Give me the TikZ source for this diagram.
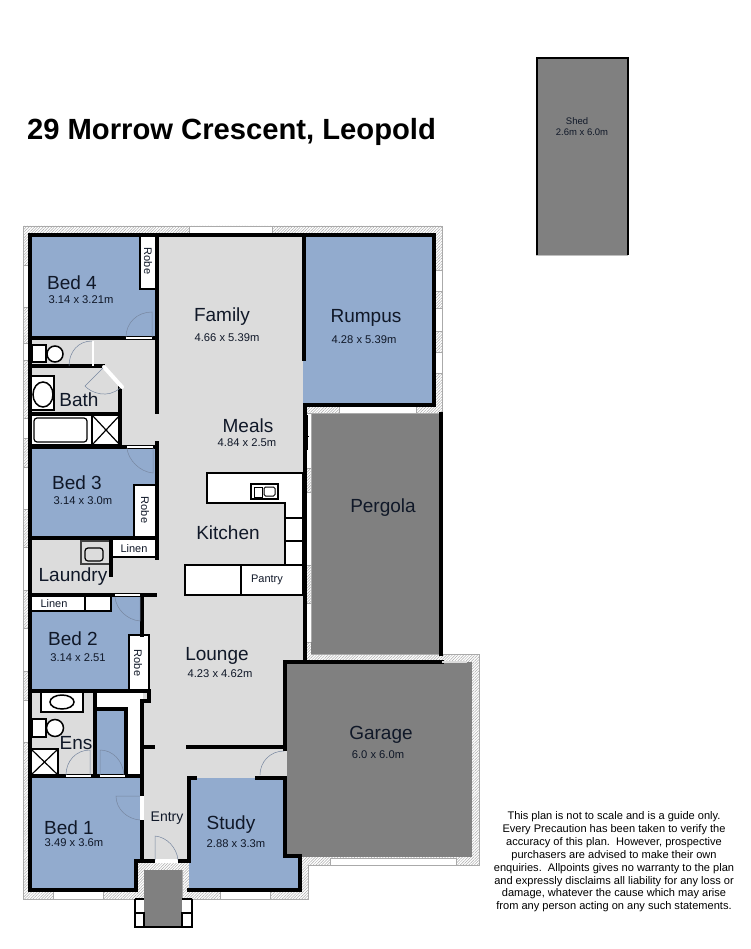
\documentclass[tikz,border=0pt]{standalone}
\usepackage{fontspec}
\setmainfont{Liberation Sans}
\usetikzlibrary{patterns.meta}
\definecolor{floorgrey}{RGB}{220,220,220}
\definecolor{bedblue}{RGB}{146,171,206}
\definecolor{slabgrey}{RGB}{128,128,128}
\definecolor{doorline}{RGB}{120,135,160}
\definecolor{bandline}{RGB}{170,170,170}
\definecolor{labelink}{RGB}{16,24,40}
\tikzstyle{wall}=[line width=3.4pt, line cap=rect, black]
\tikzstyle{fitting}=[line width=2pt, black, fill=white]
\tikzstyle{door}=[line width=0.5pt, doorline]
\tikzstyle{opening}=[line width=2.5pt, white]
\tikzstyle{hatched}=[draw=bandline, line width=0.7pt, pattern={Lines[angle=45,distance=2pt,line width=0.5pt]}, pattern color=bandline]
\tikzstyle{glazing}=[draw=bandline, line width=0.7pt, fill=white]
\tikzstyle{roomname}=[inner sep=0pt, labelink, font=\fontsize{19}{19}\selectfont]
\tikzstyle{roomsize}=[inner sep=0pt, labelink, font=\fontsize{11.2}{11.2}\selectfont]
\tikzstyle{cupboard}=[inner sep=0pt, labelink, font=\fontsize{11}{11}\selectfont]

\begin{document}
\begin{tikzpicture}[x=1pt, y=-1pt]
\useasboundingbox (0,0) rectangle (750,949);
% Outer band
    \draw[hatched] (23,226) -- (442,226) -- (442,413) -- (306,413) -- (306,642) -- (311,642) -- (311,654) -- (479,654) -- (479,865) -- (308,865) -- (308,899) -- (182,899) -- (182,870) -- (144,870) -- (144,899) -- (23,899) -- cycle;
    \draw[hatched] (306,468) rectangle (311,492);
    \draw[hatched] (306,565) rectangle (311,603);
% Windows
    \draw[glazing] (189,226) rectangle (272,234);
    \draw[glazing] (23,265) rectangle (30,307);
    \draw[glazing] (23,343) rectangle (30,360);
    \draw[glazing] (23,418) rectangle (30,438);
    \draw[glazing] (23,467) rectangle (30,509);
    \draw[glazing] (23,547) rectangle (30,590);
    \draw[glazing] (23,628) rectangle (30,671);
    \draw[glazing] (23,700) rectangle (30,742);
    \draw[glazing] (53,891) rectangle (103,899);
    \draw[glazing] (220,891) rectangle (270,899);
    \draw[glazing] (434,270) rectangle (442,291);
    \draw[glazing] (434,308) rectangle (442,331);
    \draw[glazing] (434,352) rectangle (442,373);
    \draw[glazing] (339,406) rectangle (416,413);
    \draw[glazing] (330,858) rectangle (456,865);
% Floors
    \fill[floorgrey] (157,235) rectangle (304,778);
    \fill[floorgrey] (30,338) rectangle (157,447);
    \fill[floorgrey] (30,538) rectangle (157,595);
    \fill[floorgrey] (143,595) rectangle (157,861);
    \fill[floorgrey] (157,778) rectangle (189,861);
    \fill[floorgrey] (30,692) rectangle (95,776);
    \fill[white] (96,692) rectangle (143,776);
% Bedrooms and other blue rooms
    \fill[bedblue] (30,235) -- (140,235) -- (140,289) -- (157,289) -- (157,338) -- (30,338) -- cycle;
    \fill[bedblue] (30,447) -- (157,447) -- (157,485) -- (134,485) -- (134,537) -- (30,537) -- cycle;
    \fill[bedblue] (30,612) -- (111,612) -- (111,596) -- (142,596) -- (142,635) -- (129,635) -- (129,691) -- (30,691) -- cycle;
    \fill[bedblue] (30,776) -- (142,776) -- (142,861) -- (136,861) -- (136,890) -- (30,890) -- cycle;
    \fill[bedblue] (96,709) rectangle (126,775);
    \fill[bedblue] (189,778) -- (285,778) -- (285,856) -- (300,856) -- (300,890) -- (189,890) -- cycle;
    \fill[bedblue] (303,235) rectangle (434,405);
% Pergola, garage, porch, shed
    \fill[slabgrey] (311,414) rectangle (441,654);
    \fill[slabgrey] (286,662) rectangle (472,857);
    \fill[slabgrey] (144,870) rectangle (182,927);
    \fill[slabgrey] (536.5,58) rectangle (628,255);
    \draw[line width=2pt] (536.5,255) -- (536.5,58) -- (628,58) -- (628,255);
    \draw[line width=1pt, lightgray] (536,255.5) -- (628,255.5);
    \draw[line width=0.7pt, bandline] (311,414) -- (311,642);
% Fittings
    \draw[fitting] (140,235) rectangle (157,289);
    \draw[fitting] (134,485) rectangle (157,537);
    \draw[fitting] (129,635) rectangle (149,691);
    \draw[fitting] (111,538) rectangle (157,557);
    \draw[fitting] (30,596) rectangle (111,611);
    \draw[line width=2pt] (85,596) -- (85,611);
    \draw[fitting] (207,473) -- (303,473) -- (303,565) -- (285,565) -- (285,503) -- (207,503) -- cycle;
    \draw[line width=1.5pt] (286,518) -- (303,518);
    \draw[line width=1.5pt] (286,541) -- (303,541);
    \draw[line width=1.2pt, fill=white] (251,484) rectangle (278,499);
    \draw[line width=1pt] (254,487) rectangle (262,497);
    \draw[line width=1pt, rounded corners=1.5pt] (264,487) rectangle (275,496);
    \draw[fitting] (185,565) rectangle (303,595);
    \draw[line width=1.5pt] (241,565) -- (241,595);
% Toilet, bath and basins
    \draw[line width=1.5pt, fill=white] (32,345) rectangle (46,362);
    \draw[line width=1.5pt, fill=white] (55,354) circle(8);
    \draw[line width=1.5pt, fill=white] (31,376) rectangle (54,410);
    \draw[line width=1.5pt, fill=white] (43,394.5) ellipse[x radius=10, y radius=12.5];
    \draw[line width=1.5pt, fill=white] (31,415) rectangle (92,445);
    \draw[line width=1.2pt, rounded corners=3pt] (34,418) rectangle (87,442);
    \draw[line width=1.5pt, fill=white] (92,415) rectangle (120,445);
    \draw[line width=1.2pt] (92,415) -- (120,445);
    \draw[line width=1.2pt] (120,415) -- (92,445);
    \draw[line width=1.2pt, draw=darkgray, fill=floorgrey] (81,541) rectangle (110,564);
    \draw[line width=1.2pt, rounded corners=3pt] (85,548) rectangle (103,561);
    \draw[line width=2pt, fill=white] (41,692) rectangle (83,712);
    \draw[line width=1.5pt, fill=white] (62,702) ellipse[x radius=12, y radius=7];
    \draw[line width=1.5pt, fill=white] (32,719) rectangle (46,737);
    \draw[line width=1.5pt, fill=white] (55,728) circle(8.5);
    \draw[line width=2pt, fill=white] (31,749) rectangle (58,775);
    \draw[line width=1.2pt] (31,749) -- (58,775);
    \draw[line width=1.2pt] (58,749) -- (31,775);
% Porch
    \draw[line width=1.5pt] (135,899) -- (144,899);
    \draw[line width=1.5pt] (182,899) -- (192,899);
    \draw[line width=1.5pt] (135,899) -- (135,927) -- (192,927) -- (192,899);
    \draw[line width=1.2pt, fill=white] (135,913) rectangle (144,927);
    \draw[line width=1.2pt, fill=white] (182,913) rectangle (192,927);
% Walls
    \draw[wall] (30,235) -- (434,235);
    \draw[wall] (30,235) -- (30,890) -- (136,890) -- (136,861) -- (142,861);
    \draw[wall] (189,890) -- (300,890) -- (300,856) -- (285,856) -- (285,662);
    \draw[wall] (434,235) -- (434,405) -- (305,405) -- (305,662);
    \draw[wall] (304,235) -- (304,359);
    \draw[wall] (157,235) -- (157,412);
    \draw[wall] (157,443) -- (157,558);
    \draw[wall] (30,338) -- (157,338);
    \draw[wall] (30,366) -- (103,366);
    \draw[wall] (120,387) -- (120,447);
    \draw[wall] (30,414) -- (120,414);
    \draw[wall] (30,447) -- (157,447);
    \draw[wall] (30,538) -- (157,538);
    \draw[wall] (111,538) -- (111,575);
    \draw[wall] (30,595) -- (155,595);
    \draw[wall] (142,595) -- (142,635);
    \draw[wall] (30,691) -- (149,691) -- (149,701) -- (142,701) -- (142,861) -- (189,861) -- (189,778);
    \draw[wall] (95,691) -- (95,776);
    \draw[wall] (96,709) -- (126,709) -- (126,776);
    \draw[wall] (30,776) -- (142,776);
    \draw[wall] (143,747) -- (153,747);
    \draw[wall] (188,747) -- (285,747);
    \draw[wall] (189,778) -- (195,778);
    \draw[wall] (257,778) -- (285,778);
    \draw[wall] (285,662) -- (442,662);
    \draw[wall] (441,414) -- (441,654);
    \draw[line width=1.5pt] (307,415) -- (307,450);
    \draw[line width=1pt] (305,436) -- (309,436);
% Door openings
    \draw[opening] (126,338) -- (152,338);
    \draw[opening] (93,341) -- (93,366);
    \draw[opening, line width=4pt, line cap=round, draw=white] (104,367) -- (122,387);
    \draw[opening] (127,447) -- (153,447);
    \draw[opening] (115,595) -- (140,595);
    \draw[opening] (66,776) -- (91,776);
    \draw[opening] (100,776) -- (125,776);
    \draw[opening, line width=3.5pt] (142,796) -- (142,820);
    \draw[opening, line width=3.5pt] (155,861) -- (178,861);
    \draw[opening, line width=3.5pt, draw=floorgrey] (285,751) -- (285,776);
    \draw[line width=2.5pt, floorgrey] (442,662) -- (467,662);
% Door swings
    \draw[door] (126,337) .. controls (126,323) and (137,312) .. (152,312) -- (152,337);
    \draw[door] (69,366) .. controls (69,352) and (78,341) .. (92,341);
    \draw[door] (103,368) -- (85,386) .. controls (91,393) and (108,399) .. (120,388);
    \draw[door] (127,448) .. controls (128,460) and (140,472) .. (153,473) -- (153,448);
    \draw[door] (115,597) .. controls (116,609) and (127,620) .. (140,621) -- (140,597);
    \draw[door] (66,775) .. controls (66,761) and (76,750) .. (90,750) -- (90,775);
    \draw[door] (124,775) .. controls (123,761) and (113,750) .. (100,750) -- (100,775);
    \draw[door] (140,796) -- (116,796) .. controls (116,809) and (127,819) .. (140,820);
    \draw[door] (155,860) -- (155,836) .. controls (167,837) and (177,848) .. (178,860);
    \draw[door] (260,775) .. controls (260,762) and (270,751) .. (284,751);
    \draw[line width=1pt, gray] (466.5,663) -- (466.5,688);
% Labels
    \node[inner sep=0pt, font=\bfseries\fontsize{29.2}{29.2}\selectfont] (title) at (231.5,132) {29 Morrow Crescent, Leopold};
    \node[inner sep=0pt, labelink, font=\fontsize{9.5}{9.5}\selectfont] (shedname) at (577,121) {Shed};
    \node[inner sep=0pt, labelink, font=\fontsize{9.5}{9.5}\selectfont] (shedsize) at (582,132) {2.6m x 6.0m};
    \node[roomname] (bedfour) at (72,283) {Bed 4};
    \node[roomsize] (bedfoursize) at (81,300) {3.14 x 3.21m};
    \node[roomname] (family) at (222,317) {Family};
    \node[roomsize] (familysize) at (227,338) {4.66 x 5.39m};
    \node[roomname] (rumpus) at (366,318) {Rumpus};
    \node[roomsize] (rumpussize) at (364,340) {4.28 x 5.39m};
    \node[roomname] (bath) at (79,400) {Bath};
    \node[roomname] (meals) at (248,426) {Meals};
    \node[roomsize] (mealssize) at (247,443) {4.84 x 2.5m};
    \node[roomname] (bedthree) at (77,483) {Bed 3};
    \node[roomsize] (bedthreesize) at (83,501) {3.14 x 3.0m};
    \node[roomname] (pergola) at (383,508) {Pergola};
    \node[roomname] (kitchen) at (228,533) {Kitchen};
    \node[roomname] (laundry) at (73,577) {Laundry};
    \node[cupboard] (pantry) at (267,580) {Pantry};
    \node[cupboard] (linenupper) at (134,549) {Linen};
    \node[cupboard] (linenlower) at (54,604) {Linen};
    \node[cupboard, rotate=-90] (robefour) at (148,261) {Robe};
    \node[cupboard, rotate=-90] (robethree) at (145,510) {Robe};
    \node[cupboard, rotate=-90] (robetwo) at (138,663) {Robe};
    \node[roomname] (bedtwo) at (73,639) {Bed 2};
    \node[roomsize] (bedtwosize) at (78,658) {3.14 x 2.51};
    \node[roomname] (lounge) at (217,656) {Lounge};
    \node[roomsize] (loungesize) at (220,674) {4.23 x 4.62m};
    \node[roomname] (garage) at (381,735) {Garage};
    \node[roomsize] (garagesize) at (378,755) {6.0 x 6.0m};
    \node[roomname] (ens) at (76,743) {Ens};
    \node[inner sep=0pt, labelink, font=\fontsize{14}{14}\selectfont] (entry) at (167,818) {Entry};
    \node[roomname] (bedone) at (69,828) {Bed 1};
    \node[roomsize] (bedonesize) at (74,843) {3.49 x 3.6m};
    \node[roomname] (study) at (231,825) {Study};
    \node[roomsize] (studysize) at (236,844) {2.88 x 3.3m};
    \node[inner sep=0pt, align=center, font=\fontsize{11.05}{12.85}\selectfont] (notice) at (614,862) {This plan is not to scale and is a guide only.\\Every Precaution has been taken to verify the\\accuracy of this plan.\ \ However, prospective\\purchasers are advised to make their own\\enquiries.\ \ Allpoints gives no warranty to the plan\\and expressly disclaims all liability for any loss or\\damage, whatever the cause which may arise\\from any person acting on any such statements.};
\end{tikzpicture}
\end{document}
